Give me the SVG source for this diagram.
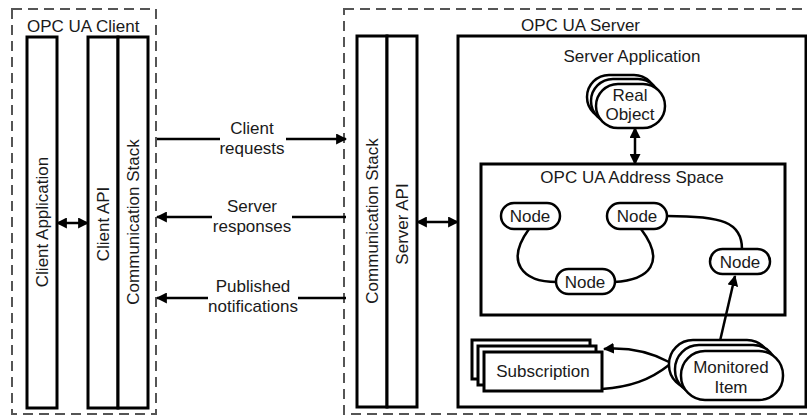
<svg xmlns="http://www.w3.org/2000/svg" width="807" height="416" viewBox="0 0 807 416">
<style>
  text { font-family: "Liberation Sans", Arial, sans-serif; font-size: 17px; fill: #1a1a1a; }
  .c { text-anchor: middle; }
  .dash { fill: none; stroke: #555; stroke-width: 2; stroke-dasharray: 10 6; }
  .box { fill: #fff; stroke: #000; stroke-width: 3; }
  .shape { fill: #fff; stroke: #000; stroke-width: 2.5; }
  .line { fill: none; stroke: #000; stroke-width: 2.5; }
</style>
<defs>
  <marker id="ah" viewBox="0 0 10 10" refX="9" refY="5" markerUnits="userSpaceOnUse" markerWidth="11" markerHeight="11" orient="auto-start-reverse">
    <path d="M0,0 L10,5 L0,10 z" fill="#000"/>
  </marker>
</defs>
<rect width="807" height="416" fill="#fff"/>

<g id="client">
  <rect class="dash" x="12" y="9" width="144" height="405"/>
  <text x="27" y="32">OPC UA Client</text>
</g>
<g id="client-application">
  <rect class="box" x="27" y="37" width="30" height="371"/>
  <text class="c" transform="translate(48,222) rotate(-90)">Client Application</text>
</g>
<g id="client-api">
  <rect class="box" x="88" y="37" width="30" height="371"/>
  <text class="c" transform="translate(109,224) rotate(-90)">Client API</text>
</g>
<g id="client-comm-stack">
  <rect class="box" x="118" y="37" width="30" height="371"/>
  <text class="c" transform="translate(139,222) rotate(-90)">Communication Stack</text>
</g>

<g id="server">
  <rect class="dash" x="344" y="9" width="470" height="405"/>
  <text x="521" y="31">OPC UA Server</text>
</g>
<g id="server-comm-stack">
  <rect class="box" x="357" y="36" width="30" height="371"/>
  <text class="c" transform="translate(378,221) rotate(-90)">Communication Stack</text>
</g>
<g id="server-api">
  <rect class="box" x="387" y="36" width="30" height="371"/>
  <text class="c" transform="translate(408,224) rotate(-90)">Server API</text>
</g>
<g id="server-application">
  <rect class="box" x="458" y="36" width="348" height="371"/>
  <text class="c" x="632" y="62">Server Application</text>
</g>
<g id="address-space">
  <rect class="box" x="481" y="164" width="304" height="151"/>
  <text class="c" x="632" y="183">OPC UA Address Space</text>
</g>

<g id="connectors">
  <line class="line" x1="57" y1="223" x2="88" y2="223" marker-start="url(#ah)" marker-end="url(#ah)"/>
  <line class="line" x1="417" y1="222" x2="458" y2="222" marker-start="url(#ah)" marker-end="url(#ah)"/>
  <line class="line" x1="635" y1="128" x2="635" y2="164" marker-start="url(#ah)" marker-end="url(#ah)"/>
  <path class="line" d="M157,139 H220 M286,139 H346" marker-end="url(#ah)"/>
  <path class="line" d="M346,217 H292 M212,217 H157" marker-end="url(#ah)"/>
  <path class="line" d="M346,298 H298 M208,298 H157" marker-end="url(#ah)"/>
  <path class="line" d="M529,229 C505,262 522,282 557,282"/>
  <path class="line" d="M641,229 C666,262 650,280 614,282"/>
  <path class="line" d="M667,216 C722,216 742,222 742,249"/>
  <line class="line" x1="720" y1="341" x2="735" y2="276" marker-end="url(#ah)"/>
  <path class="line" d="M669,362 C650,352 630,347 604,349" marker-end="url(#ah)"/>
  <path class="line" d="M669,365 C650,380 630,387 602,389"/>
  <text class="c" x="252" y="134">Client</text>
  <text class="c" x="252" y="154">requests</text>
  <text class="c" x="252" y="212">Server</text>
  <text class="c" x="252" y="232">responses</text>
  <text class="c" x="253" y="292">Published</text>
  <text class="c" x="253" y="312">notifications</text>
</g>

<g id="real-object">
  <rect class="shape" x="587" y="75" width="69" height="44" rx="22" ry="22"/>
  <rect class="shape" x="591" y="79" width="69" height="44" rx="22" ry="22"/>
  <rect class="shape" x="596" y="84" width="69" height="44" rx="22" ry="22"/>
  <text class="c" x="630" y="101">Real</text>
  <text class="c" x="630" y="120">Object</text>
</g>
<g id="node-1">
  <rect class="shape" x="501" y="203" width="59" height="26" rx="13" ry="13"/>
  <text class="c" x="530" y="222">Node</text>
</g>
<g id="node-2">
  <rect class="shape" x="607" y="203" width="60" height="26" rx="13" ry="13"/>
  <text class="c" x="637" y="222">Node</text>
</g>
<g id="node-3">
  <rect class="shape" x="556" y="269" width="59" height="25" rx="12.5" ry="12.5"/>
  <text class="c" x="585" y="288">Node</text>
</g>
<g id="node-4">
  <rect class="shape" x="710" y="249" width="60" height="25" rx="12.5" ry="12.5"/>
  <text class="c" x="740" y="268">Node</text>
</g>
<g id="subscription">
  <rect class="box" x="472" y="340" width="118" height="39"/>
  <rect class="box" x="478" y="346" width="118" height="39"/>
  <rect class="box" x="484" y="352" width="118" height="39"/>
  <text class="c" x="543" y="377">Subscription</text>
</g>
<g id="monitored-item">
  <rect class="shape" x="669" y="340" width="102" height="49" rx="24" ry="24"/>
  <rect class="shape" x="675" y="345" width="102" height="49" rx="24" ry="24"/>
  <rect class="shape" x="681" y="351" width="102" height="49" rx="24" ry="24"/>
  <text class="c" x="731" y="373">Monitored</text>
  <text class="c" x="731" y="393">Item</text>
</g>
</svg>
